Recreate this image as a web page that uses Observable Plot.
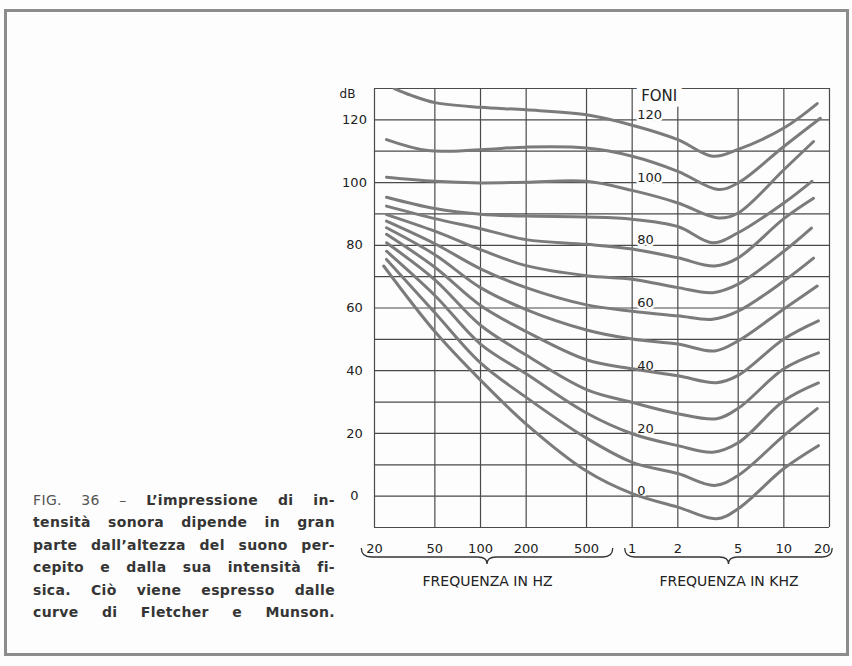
<!DOCTYPE html>
<html>
<head>
<meta charset="utf-8">
<script src="https://cdn.jsdelivr.net/npm/d3@7"></script>
<script src="https://cdn.jsdelivr.net/npm/@observablehq/plot@0.6"></script>
<style>
  html, body { margin: 0; padding: 0; background: #ffffff; }
  #wrap { position: relative; width: 852px; height: 666px; overflow: hidden; background: #fdfdfd; }
  #frame { position: absolute; left: 4px; top: 9px; width: 839px; height: 641px; border: 3px solid #8c8c8c; pointer-events: none; }
  #chart { position: absolute; left: 0; top: 0; }
  #caption { position: absolute; left: 33px; top: 489px; width: 302px; font-family: "DejaVu Sans", sans-serif; font-size: 14px; font-weight: bold; color: #353535; line-height: 22.4px; letter-spacing: 0.35px; }
  #caption div { text-align: justify; text-align-last: justify; white-space: nowrap; }
  #caption .light { font-weight: normal; color: #555; }
</style>
</head>
<body>
<div id="wrap">
  <div id="chart"></div>
  <div id="caption"></div>
  <div id="frame"></div>
</div>
<script>
// ---- Data ----
const phonLevels = [0, 10, 20, 30, 40, 50, 60, 70, 80, 90, 100, 110, 120];

// Each curve: [frequency in Hz, level in dB]
const phon0   = [[23,73.4],[50,52.5],[100,37],[200,23],[500,8],[1000,0.8],[2000,-3.5],[3600,-7.2],[5000,-4],[10000,8.8],[16900,16.1]];
const phon10  = [[24,75.5],[50,58.5],[100,42.5],[200,31.5],[500,18.5],[1000,10.8],[2000,7.2],[3500,3.4],[5000,6.6],[10000,19.3],[16600,27.9]];
const phon20  = [[24,78.1],[50,64],[100,48.5],[200,39],[500,26.5],[1000,19.9],[2000,16.1],[3400,14],[5000,17],[10000,30.4],[16900,36.1]];
const phon30  = [[24,80.8],[50,69],[100,54.5],[200,45],[500,34],[1000,29.9],[2000,26.3],[3600,24.7],[5000,28],[10000,40.6],[16900,45.7]];
const phon40  = [[24,83.5],[50,73],[100,60.8],[200,52.5],[500,43.5],[1000,40.6],[2000,38.4],[3600,36.2],[5000,38.5],[10000,50.1],[16900,55.9]];
const phon50  = [[24,85.6],[50,77],[100,66.5],[200,59.5],[500,53],[1000,50.1],[2000,48.5],[3500,46.3],[5000,49.5],[10000,59.7],[16600,67]];
const phon60  = [[24,87.7],[50,80.5],[100,72.5],[200,66.5],[500,61],[1000,59],[2000,57.5],[3400,56.4],[5000,59],[10000,68.6],[15700,75.9]];
const phon70  = [[24,89.8],[50,84.5],[100,78.6],[200,73.5],[500,70.3],[1000,69.2],[2000,66.5],[3400,64.9],[5000,67.6],[10000,78.1],[15200,85.5]];
const phon80  = [[24,92.5],[50,88.5],[100,85.3],[200,81.8],[500,80.3],[1000,78.8],[2000,76],[3500,73.4],[5000,76],[10000,88.5],[15700,95]];
const phon90  = [[24,95.3],[50,91.7],[100,89.9],[200,89.3],[500,89],[1000,88.3],[2000,86],[3400,80.8],[5000,84],[10000,93.5],[15300,100.4]];
const phon100 = [[24,101.7],[50,100.4],[100,99.9],[200,100.1],[500,100.4],[1000,97.5],[2000,93.5],[3700,88.7],[5000,90.3],[10000,104.1],[15700,113.1]];
const phon110 = [[24,113.7],[45,110.2],[100,110.5],[200,111.3],[500,111],[1000,108.4],[2000,103.6],[3700,97.8],[5000,99.9],[10000,111.5],[17400,120.5]];
const phon120 = [[27,130],[35,127.8],[50,125.5],[100,124],[200,123.2],[500,121.6],[1000,118.3],[2000,113.7],[3400,108.4],[5000,110.6],[10000,117.4],[16600,125.2]];

const curvePoints = [phon0, phon10, phon20, phon30, phon40, phon50, phon60, phon70, phon80, phon90, phon100, phon110, phon120];

const labeledPhons = [0, 20, 40, 60, 80, 100, 120];

const xTicks = [20, 50, 100, 200, 500, 1000, 2000, 5000, 10000, 20000];
const xTickLabels = ["20", "50", "100", "200", "500", "1", "2", "5", "10", "20"];
const yTicks = [0, 20, 40, 60, 80, 100, 120];
const yGrid = [-10, 0, 10, 20, 30, 40, 50, 60, 70, 80, 90, 100, 110, 120, 130];

const braceGroups = [
  {label: "FREQUENZA IN HZ", from: 16.5, to: 750},
  {label: "FREQUENZA IN KHZ", from: 900, to: 21000}
];

const captionLines = [
  ["FIG. 36 – ", "L’impressione di in-"],
  ["", "tensità sonora dipende in gran"],
  ["", "parte dall’altezza del suono per-"],
  ["", "cepito e dalla sua intensità fi-"],
  ["", "sica. Ciò viene espresso dalle"],
  ["", "curve di Fletcher e Munson."]
];

// ---- Build ----
const rows = phonLevels.flatMap((p, i) => curvePoints[i].map(([hz, db]) => ({phon: p, hz, db})));
const tickLabelByHz = new Map(xTicks.map((t, i) => [t, xTickLabels[i]]));

const FONT = "DejaVu Sans, sans-serif";
const GRID = "#4a4a4a";
const BG = "#fdfdfd";

const braceMark = (index, scales, values, dimensions) => {
  const ns = "http://www.w3.org/2000/svg";
  const x = scales.x;
  const y0 = dimensions.height - dimensions.marginBottom + 30;
  const g = document.createElementNS(ns, "g");
  for (const b of braceGroups) {
    const x0 = x(b.from), x1 = x(b.to), xm = (x0 + x1) / 2;
    const p = document.createElementNS(ns, "path");
    p.setAttribute("d",
      `M${x0},${y0 - 9} Q${x0},${y0} ${x0 + 10},${y0} L${xm - 9},${y0} Q${xm},${y0} ${xm},${y0 + 7} ` +
      `Q${xm},${y0} ${xm + 9},${y0} L${x1 - 10},${y0} Q${x1},${y0} ${x1},${y0 - 9}`);
    p.setAttribute("fill", "none");
    p.setAttribute("stroke", "#333");
    p.setAttribute("stroke-width", "1.3");
    g.appendChild(p);
  }
  return g;
};

const chart = Plot.plot({
  width: 852,
  height: 666,
  marginLeft: 374,
  marginRight: 23,
  marginTop: 88,
  marginBottom: 139,
  style: {fontFamily: FONT, fontSize: "13px", color: "#222", background: "transparent"},
  x: {type: "log", domain: [20, 20000], label: null, axis: null},
  y: {domain: [-10, 130], label: null},
  marks: [
    Plot.ruleX(xTicks, {stroke: GRID, strokeWidth: 1.2}),
    Plot.ruleY(yGrid, {stroke: GRID, strokeWidth: 1.2}),
    // halos behind labels (interrupt the grid)
    Plot.text(labeledPhons, {x: () => 1000, y: d => d, text: d => String(d), textAnchor: "start", dx: 5, dy: -5,
      fontSize: 13, fill: BG, stroke: BG, strokeWidth: 5}),
    Plot.text(["FONI"], {x: () => 1000, frameAnchor: "top", lineAnchor: "middle", text: d => d, textAnchor: "start", dx: 9, dy: 8,
      fontSize: 15, fill: BG, stroke: BG, strokeWidth: 12}),
    Plot.line(rows, {x: "hz", y: "db", z: "phon", stroke: "#7b7b7b", strokeWidth: 3, curve: "catmull-rom", clip: true}),
    Plot.text(labeledPhons, {x: () => 1000, y: d => d, text: d => String(d), textAnchor: "start", dx: 5, dy: -5,
      fontSize: 13, fill: "#222"}),
    Plot.text(["FONI"], {x: () => 1000, frameAnchor: "top", lineAnchor: "middle", text: d => d, textAnchor: "start", dx: 9, dy: 8,
      fontSize: 15, fill: "#222"}),
    Plot.text(["dB"], {frameAnchor: "top-left", text: d => d, textAnchor: "middle", dx: -27, dy: 1, fontSize: 12, fill: "#222"}),
    // x tick labels (one per grid line; the last one kept inside the frame)
    Plot.text(xTicks.slice(0, -1), {x: d => d, frameAnchor: "bottom", lineAnchor: "middle", dy: 21, text: d => tickLabelByHz.get(d),
      fontSize: 13, fill: "#222"}),
    Plot.text(xTicks.slice(-1), {x: d => d, frameAnchor: "bottom", lineAnchor: "middle", textAnchor: "end", dx: 1, dy: 21,
      text: d => tickLabelByHz.get(d), fontSize: 13, fill: "#222"}),
    Plot.axisY(yTicks, {tickSize: 0, tickPadding: 20, textAnchor: "middle", fontSize: 13, label: null}),
    braceMark,
    Plot.text(braceGroups, {x: d => Math.sqrt(d.from * d.to), frameAnchor: "bottom", lineAnchor: "middle", dy: 54, text: "label",
      fontSize: 14, fill: "#222", letterSpacing: "0.3px"})
  ]
});
document.getElementById("chart").appendChild(chart);

const cap = document.getElementById("caption");
for (const [light, rest] of captionLines) {
  const div = document.createElement("div");
  if (light) {
    const s = document.createElement("span");
    s.className = "light";
    s.textContent = light;
    div.appendChild(s);
  }
  div.appendChild(document.createTextNode(rest));
  cap.appendChild(div);
}
</script>
</body>
</html>
